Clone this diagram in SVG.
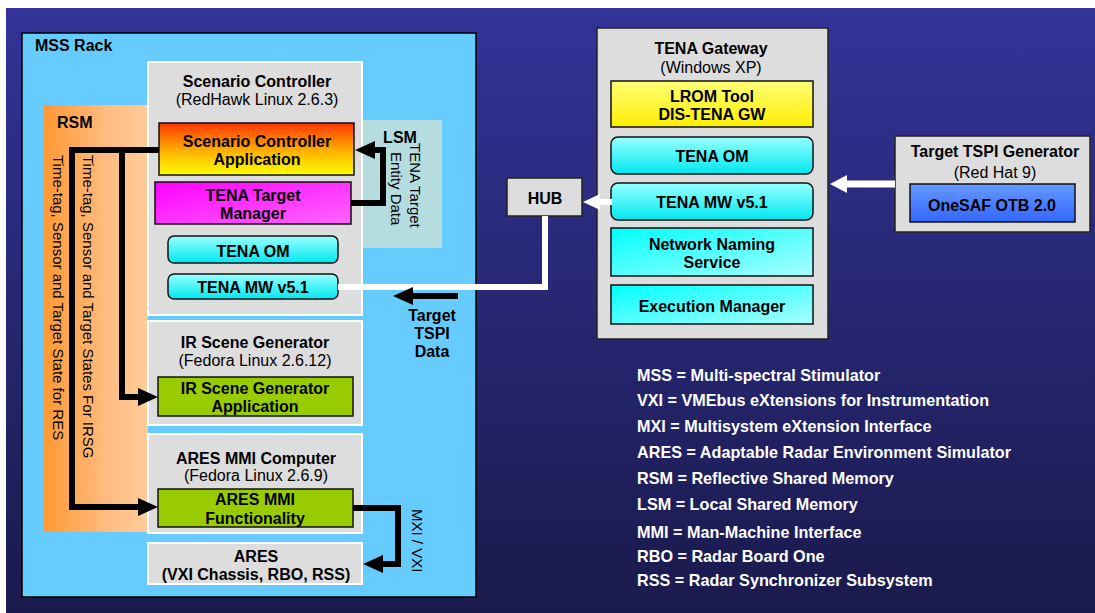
<svg xmlns="http://www.w3.org/2000/svg" width="1095" height="613" viewBox="0 0 1095 613">
<defs>
<linearGradient id="bg" x1="0" y1="0" x2="0" y2="1"><stop offset="0" stop-color="#333399"/><stop offset="1" stop-color="#1a1a4c"/></linearGradient>
<linearGradient id="rsm" x1="0" y1="0" x2="1" y2="0"><stop offset="0" stop-color="#ff9933"/><stop offset="0.6" stop-color="#ffbb80"/><stop offset="1" stop-color="#ffcc99"/></linearGradient>
<linearGradient id="sca" x1="0" y1="0" x2="0" y2="1"><stop offset="0" stop-color="#ff3300"/><stop offset="0.5" stop-color="#ffaa00"/><stop offset="1" stop-color="#ffff00"/></linearGradient>
<linearGradient id="mag" x1="0" y1="0" x2="1" y2="1"><stop offset="0" stop-color="#ff00ff"/><stop offset="1" stop-color="#ff66ff"/></linearGradient>
<linearGradient id="cyr" x1="0" y1="0" x2="0" y2="1"><stop offset="0" stop-color="#99ffff"/><stop offset="1" stop-color="#00e8f0"/></linearGradient>
<linearGradient id="cy" x1="0" y1="0" x2="1" y2="1"><stop offset="0" stop-color="#00ffff"/><stop offset="1" stop-color="#aaffff"/></linearGradient>
<linearGradient id="yel" x1="0" y1="0" x2="0" y2="1"><stop offset="0" stop-color="#ffff77"/><stop offset="1" stop-color="#ffee00"/></linearGradient>
<linearGradient id="blu" x1="0" y1="0" x2="0" y2="1"><stop offset="0" stop-color="#6699ff"/><stop offset="1" stop-color="#3366ff"/></linearGradient>
<style>
text{font-family:"Liberation Sans",Arial,sans-serif;fill:#000}
.b{font-weight:bold;font-size:16px}
.r{font-size:16px}
.c{text-anchor:middle}
.v{font-size:15px}
.leg{font-weight:bold;font-size:16.2px;fill:#fff}
.grey{fill:#dddddd;stroke:#fff;stroke-width:2}
.greyd{fill:#dddddd;stroke:#222;stroke-width:1.5}
.app{stroke:#111;stroke-width:1.5}
.blk{fill:none;stroke:#000;stroke-width:6}
.wht{fill:none;stroke:#fff;stroke-width:6}
</style>
</defs>
<rect x="6" y="8" width="1089" height="605" fill="url(#bg)"/>

<g id="mss-rack">
<rect x="22" y="33" width="454" height="564" fill="#66ccff" stroke="#000" stroke-width="1.5"/>
<text x="35" y="51" class="b">MSS Rack</text>
</g>

<g id="rsm">
<rect x="44" y="105" width="104" height="427" fill="url(#rsm)"/>
<text x="57" y="128" class="b">RSM</text>
<text x="53" y="155" class="v" transform="rotate(90 53 155)">Time-tag, Sensor and Target State for RES</text>
<text x="83" y="155" class="v" transform="rotate(90 83 155)">Time-tag, Sensor and Target States For IRSG</text>
</g>

<g id="lsm">
<rect x="362" y="120" width="80" height="128" fill="#b5dde0"/>
<text x="400" y="143" class="b c">LSM</text>
<text x="410" y="143" class="v" transform="rotate(90 410 143)">TENA Target</text>
<text x="391" y="152" class="v" transform="rotate(90 391 152)">Entity Data</text>
</g>

<g id="scenario-controller">
<rect x="148" y="62" width="214" height="253" class="grey"/>
<text x="257" y="87" class="b c">Scenario Controller</text>
<text x="257" y="105" class="r c">(RedHawk Linux 2.6.3)</text>
</g>
<g id="sc-app">
<rect x="159" y="123" width="195" height="52" fill="url(#sca)" class="app"/>
<text x="257" y="147" class="b c">Scenario Controller</text>
<text x="257" y="165" class="b c">Application</text>
</g>
<g id="tena-target-manager">
<rect x="155" y="182" width="196" height="42" fill="url(#mag)" class="app"/>
<text x="253" y="201" class="b c">TENA Target</text>
<text x="253" y="219" class="b c">Manager</text>
</g>
<g id="sc-tena-om">
<rect x="168" y="236" width="170" height="27" rx="6" fill="url(#cyr)" class="app"/>
<text x="253" y="257" class="b c">TENA OM</text>
</g>
<g id="sc-tena-mw">
<rect x="168" y="274" width="170" height="25" rx="6" fill="url(#cyr)" class="app"/>
<text x="253" y="293" class="b c">TENA MW v5.1</text>
</g>

<g id="ir-scene-generator">
<rect x="148" y="321" width="214" height="104" class="grey"/>
<text x="255" y="348" class="b c">IR Scene Generator</text>
<text x="255" y="366" class="r c">(Fedora Linux 2.6.12)</text>
</g>
<g id="irsg-app">
<rect x="158" y="377" width="195" height="39" fill="#99cc00" class="app"/>
<text x="255" y="394" class="b c">IR Scene Generator</text>
<text x="255" y="412" class="b c">Application</text>
</g>

<g id="ares-mmi-computer">
<rect x="148" y="434" width="214" height="99" class="grey"/>
<text x="256" y="464" class="b c">ARES MMI Computer</text>
<text x="256" y="481" class="r c">(Fedora Linux 2.6.9)</text>
</g>
<g id="ares-mmi-func">
<rect x="158" y="489" width="195" height="38" fill="#99cc00" class="app"/>
<text x="255" y="505" class="b c">ARES MMI</text>
<text x="255" y="524" class="b c">Functionality</text>
</g>

<g id="ares">
<rect x="148" y="543" width="214" height="41" class="grey"/>
<text x="256" y="562" class="b c">ARES</text>
<text x="256" y="580" class="b c">(VXI Chassis, RBO, RSS)</text>
</g>

<g id="hub">
<rect x="507" y="178" width="75" height="38" class="greyd"/>
<text x="545" y="204" class="b c">HUB</text>
</g>

<g id="tena-gateway">
<rect x="597" y="28" width="231" height="311" class="greyd"/>
<text x="711" y="54" class="b c">TENA Gateway</text>
<text x="711" y="73" class="r c">(Windows XP)</text>
</g>
<g id="lrom-tool">
<rect x="611" y="81" width="202" height="46" fill="url(#yel)" class="app"/>
<text x="712" y="102" class="b c">LROM Tool</text>
<text x="712" y="120" class="b c">DIS-TENA GW</text>
</g>
<g id="gw-tena-om">
<rect x="611" y="137" width="202" height="37" rx="7" fill="url(#cyr)" class="app"/>
<text x="712" y="162" class="b c">TENA OM</text>
</g>
<g id="gw-tena-mw">
<rect x="611" y="183" width="202" height="37" rx="7" fill="url(#cyr)" class="app"/>
<text x="712" y="208" class="b c">TENA MW v5.1</text>
</g>
<g id="network-naming">
<rect x="611" y="228" width="202" height="48" fill="url(#cy)" class="app"/>
<text x="712" y="250" class="b c">Network Naming</text>
<text x="712" y="268" class="b c">Service</text>
</g>
<g id="execution-manager">
<rect x="611" y="285" width="202" height="39" fill="url(#cy)" class="app"/>
<text x="712" y="312" class="b c">Execution Manager</text>
</g>

<g id="target-tspi-generator">
<rect x="895" y="136" width="195" height="96" class="greyd"/>
<text x="995" y="157" class="b c">Target TSPI Generator</text>
<text x="995" y="178" class="r c">(Red Hat 9)</text>
</g>
<g id="onesaf">
<rect x="910" y="184" width="165" height="38" fill="url(#blu)" class="app"/>
<text x="992" y="211" class="b c">OneSAF OTB 2.0</text>
</g>

<g id="connectors">
<polyline points="159,150 72,150 72,507 140,507" class="blk"/>
<polygon points="158,507 138,498 138,516" fill="#000"/>
<polyline points="122,150 122,397 140,397" class="blk"/>
<polygon points="158,397 138,388 138,406" fill="#000"/>
<polyline points="351,203 383,203 383,150 372,150" class="blk"/>
<polygon points="355,150 375,141 375,159" fill="#000"/>
<polyline points="353,508 398,508 398,564 380,564" class="blk"/>
<polygon points="363,564 383,555 383,573" fill="#000"/>
<polyline points="338,287 545,287 545,216" class="wht"/>
<line x1="612" y1="202" x2="598" y2="202" stroke="#fff" stroke-width="6"/>
<polygon points="583,202 600,194 600,210" fill="#fff"/>
<line x1="895" y1="184" x2="845" y2="184" stroke="#fff" stroke-width="7"/>
<polygon points="830,184 847,175 847,193" fill="#fff"/>
<line x1="458" y1="296" x2="410" y2="296" stroke="#000" stroke-width="6"/>
<polygon points="393,296 413,287 413,305" fill="#000"/>
<text x="432" y="321" class="b c">Target</text>
<text x="432" y="339" class="b c">TSPI</text>
<text x="432" y="357" class="b c">Data</text>
<text x="412" y="509" class="v" transform="rotate(90 412 509)">MXI / VXI</text>
</g>

<g id="legend">
<text x="637" y="381" class="leg">MSS = Multi-spectral Stimulator</text>
<text x="637" y="406" class="leg">VXI = VMEbus eXtensions for Instrumentation</text>
<text x="637" y="432" class="leg">MXI = Multisystem eXtension Interface</text>
<text x="637" y="458" class="leg">ARES = Adaptable Radar Environment Simulator</text>
<text x="637" y="484" class="leg">RSM = Reflective Shared Memory</text>
<text x="637" y="510" class="leg">LSM = Local Shared Memory</text>
<text x="637" y="538" class="leg">MMI = Man-Machine Interface</text>
<text x="637" y="562" class="leg">RBO = Radar Board One</text>
<text x="637" y="586" class="leg">RSS = Radar Synchronizer Subsystem</text>
</g>
</svg>
